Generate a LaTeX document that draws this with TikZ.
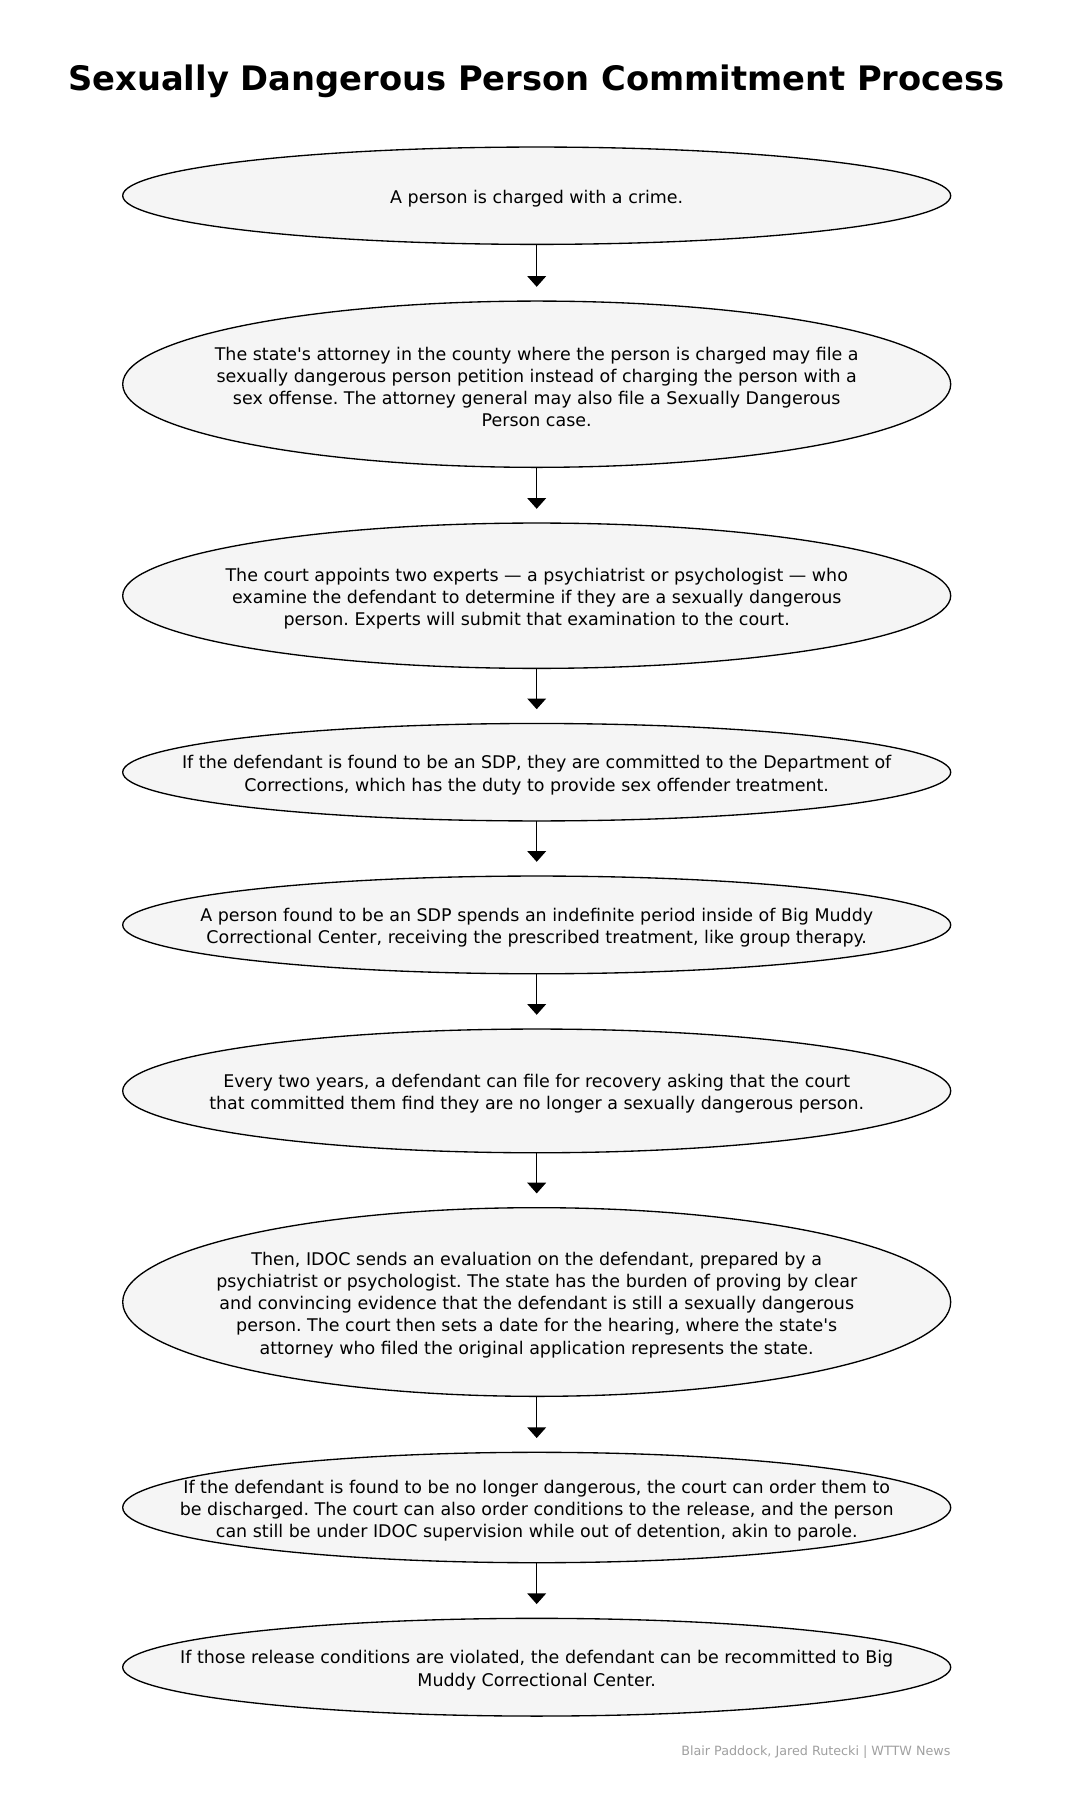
\documentclass[tikz,border=0pt]{standalone}
\usepackage{fontspec}
\newfontfamily\dvfont{DejaVu Sans}
\usetikzlibrary{shapes.geometric,arrows.meta}
\definecolor{ellfill}{HTML}{F5F5F5}
\definecolor{creditgray}{HTML}{A0A0A0}
\frenchspacing
\tikzset{
  stepell/.style={ellipse, draw=black, line width=1pt, fill=ellfill, inner sep=0pt, outer sep=0pt, minimum width=621pt},
  steptxt/.style={align=center, inner sep=0pt, text=black, yshift=-2.2pt, font=\dvfont\fontsize{13.1}{16.6}\selectfont\frenchspacing},
  arr/.style={line width=1pt, -{Triangle[length=8pt,width=14pt]}, shorten >=10.7pt},
  titletxt/.style={font=\dvfont\bfseries\fontsize{25.3}{30}\selectfont, inner sep=0pt, anchor=base},
  credittxt/.style={font=\dvfont\fontsize{9.55}{11.5}\selectfont, text=creditgray, inner sep=0pt, anchor=base east}
}
\begin{document}
\begin{tikzpicture}[x=0.75pt,y=-0.75pt]
\useasboundingbox[fill=white] (0,0) rectangle (1073,1807);
\node[titletxt] (title) at (536.5,90) {Sexually Dangerous Person Commitment Process};

\node[stepell, minimum height=73pt] (e1) at (536.7,195.7) {};
\node[steptxt] (t1) at (e1.center) {A person is charged with a crime.};

\node[stepell, minimum height=124.7pt] (e2) at (536.7,384.2) {};
\node[steptxt] (t2) at (e2.center) {The state's attorney in the county where the person is charged may file a\\sexually dangerous person petition instead of charging the person with a\\sex offense. The attorney general may also file a Sexually Dangerous\\Person case.};

\node[stepell, minimum height=109pt] (e3) at (536.7,595.7) {};
\node[steptxt] (t3) at (e3.center) {The court appoints two experts — a psychiatrist or psychologist — who\\examine the defendant to determine if they are a sexually dangerous\\person. Experts will submit that examination to the court.};

\node[stepell, minimum height=73.1pt] (e4) at (536.7,772.2) {};
\node[steptxt] (t4) at (e4.center) {If the defendant is found to be an SDP, they are committed to the Department of\\Corrections, which has the duty to provide sex offender treatment.};

\node[stepell, minimum height=73.3pt] (e5) at (536.7,924.9) {};
\node[steptxt] (t5) at (e5.center) {A person found to be an SDP spends an indefinite period inside of Big Muddy\\Correctional Center, receiving the prescribed treatment, like group therapy.};

\node[stepell, minimum height=92.8pt] (e6) at (536.7,1090.9) {};
\node[steptxt] (t6) at (e6.center) {Every two years, a defendant can file for recovery asking that the court\\that committed them find they are no longer a sexually dangerous person.};

\node[stepell, minimum height=141.5pt] (e7) at (536.7,1302) {};
\node[steptxt] (t7) at (e7.center) {Then, IDOC sends an evaluation on the defendant, prepared by a\\psychiatrist or psychologist. The state has the burden of proving by clear\\and convincing evidence that the defendant is still a sexually dangerous\\person. The court then sets a date for the hearing, where the state's\\attorney who filed the original application represents the state.};

\node[stepell, minimum height=82.8pt] (e8) at (536.7,1507.5) {};
\node[steptxt] (t8) at (e8.center) {If the defendant is found to be no longer dangerous, the court can order them to\\be discharged. The court can also order conditions to the release, and the person\\can still be under IDOC supervision while out of detention, akin to parole.};

\node[stepell, minimum height=73.3pt] (e9) at (536.7,1667.2) {};
\node[steptxt] (t9) at (e9.center) {If those release conditions are violated, the defendant can be recommitted to Big\\Muddy Correctional Center.};

\draw[arr] (e1.south) -- (e2.north);
\draw[arr] (e2.south) -- (e3.north);
\draw[arr] (e3.south) -- (e4.north);
\draw[arr] (e4.south) -- (e5.north);
\draw[arr] (e5.south) -- (e6.north);
\draw[arr] (e6.south) -- (e7.north);
\draw[arr] (e7.south) -- (e8.north);
\draw[arr] (e8.south) -- (e9.north);

\node[credittxt] (credit) at (950.7,1755) {Blair Paddock, Jared Rutecki | WTTW News};
\end{tikzpicture}
\end{document}
